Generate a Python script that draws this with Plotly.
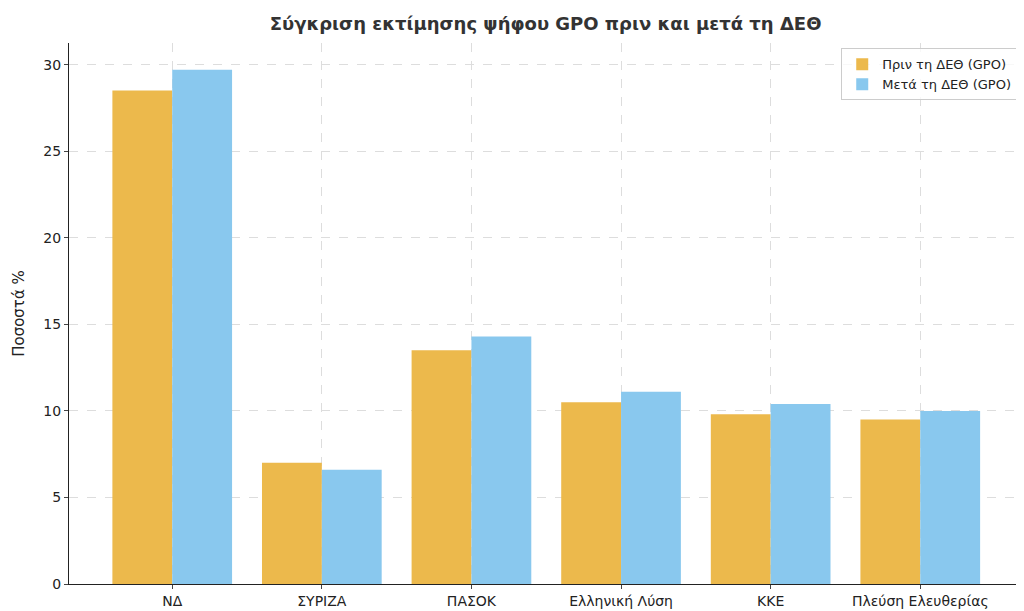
import plotly.graph_objects as go

categories = ["ΝΔ", "ΣΥΡΙΖΑ", "ΠΑΣΟΚ", "Ελληνική Λύση", "ΚΚΕ", "Πλεύση Ελευθερίας"]
before = [28.5, 7.0, 13.5, 10.5, 9.8, 9.5]
after = [29.7, 6.6, 14.3, 11.1, 10.4, 10.0]

x = list(range(len(categories)))
fig = go.Figure()
fig.add_bar(x=[i - 0.2 for i in x], y=before, width=0.4, name="Πριν τη ΔΕΘ (GPO)",
            marker=dict(color="#ECB94C", line=dict(width=0)))
fig.add_bar(x=[i + 0.2 for i in x], y=after, width=0.4, name="Μετά τη ΔΕΘ (GPO)",
            marker=dict(color="#89C8EE", line=dict(width=0)))

fig.update_layout(
    width=1024, height=611, barmode="overlay",
    paper_bgcolor="white", plot_bgcolor="white",
    font=dict(family="DejaVu Sans", size=14, color="#222"),
    title=dict(text="<b>Σύγκριση εκτίμησης ψήφου GPO πριν και μετά τη ΔΕΘ</b>",
               x=0.525, xanchor="center", y=0.985, yanchor="top", font=dict(size=18, color="#333")),
    margin=dict(l=60, r=10, t=35, b=31),
    legend=dict(x=0.995, y=0.99, xanchor="right", yanchor="top", bordercolor="#ccc",
                borderwidth=1, bgcolor="rgba(255,255,255,0.8)", font=dict(size=13)),
    showlegend=True,
)
fig.update_xaxes(range=[-0.69, 5.68], tickmode="array", tickvals=x, ticktext=categories,
                 showgrid=True, gridcolor="#ddd", griddash="dash", showline=True,
                 linecolor="#222", ticks="outside", ticklen=4, zeroline=False)
fig.update_yaxes(range=[0, 31.25], dtick=5, title=dict(text="Ποσοστά %", font=dict(size=15)),
                 showgrid=True, gridcolor="#ddd", griddash="dash", showline=True,
                 linecolor="#222", ticks="outside", ticklen=4, zeroline=False)
fig.write_html("out.html")
